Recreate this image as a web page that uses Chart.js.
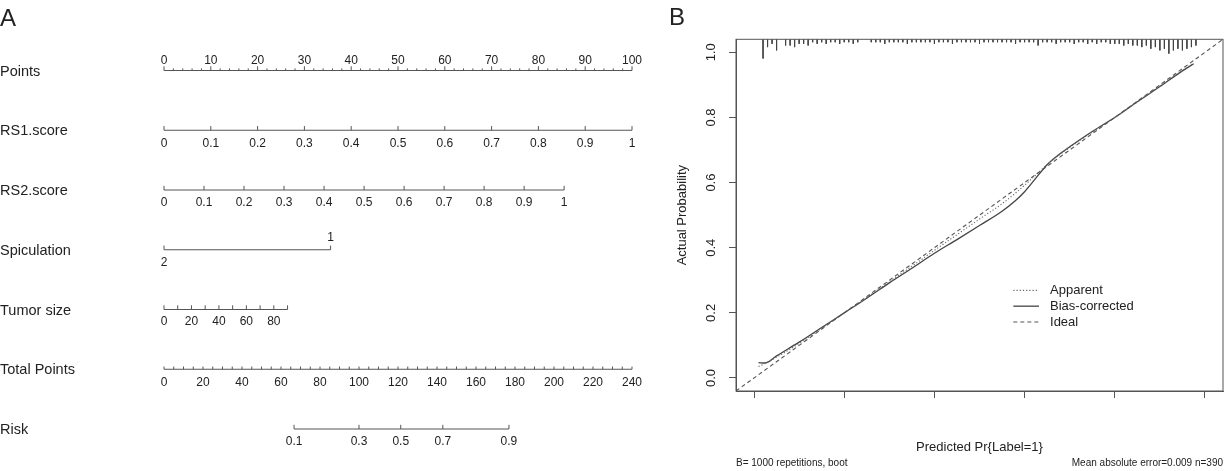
<!DOCTYPE html>
<html>
<head>
<meta charset="utf-8">
<script src="https://cdn.jsdelivr.net/npm/chart.js@4.4.1/dist/chart.umd.min.js"></script>
<style>
html, body { margin: 0; padding: 0; background: #fff; }
#wrap { position: relative; width: 1226px; height: 471px; overflow: hidden; }
#nomo { position: absolute; left: 0; top: 0; }
#calib { position: absolute; left: 660px; top: 0; }
</style>
</head>
<body>
<div id="wrap">
  <canvas id="nomo" width="660" height="471"></canvas>
  <canvas id="calib" width="566" height="471"></canvas>
</div>
<script>
// ---------- A: nomogram ----------
const rowNames = ["Points", "RS1.score", "RS2.score", "Spiculation", "Tumor size", "Total Points", "Risk"];

const pointsLabels = [0, 10, 20, 30, 40, 50, 60, 70, 80, 90, 100];
const rs1Labels = [0, 0.1, 0.2, 0.3, 0.4, 0.5, 0.6, 0.7, 0.8, 0.9, 1];
const rs2Labels = [0, 0.1, 0.2, 0.3, 0.4, 0.5, 0.6, 0.7, 0.8, 0.9, 1];
const rs2MaxPoints = 85.5;          // points given to RS2.score = 1
const spicLevels = ["2", "1"];
const spicPoints = [0, 35.6];
const tumorTicks = [0, 10, 20, 30, 40, 50, 60, 70, 80, 90];
const tumorLabels = [0, 20, 40, 60, 80];
const tumorMaxPoints = 26.4;        // points given to tumor size 90
const totalLabels = [0, 20, 40, 60, 80, 100, 120, 140, 160, 180, 200, 220, 240];
const riskLabels = [0.1, 0.3, 0.5, 0.7, 0.9];
const riskTotalPoints = [66.7, 100, 121.4, 143, 176.9];

// ---------- B: calibration ----------
const calX      = [0.01, 0.025, 0.05, 0.1, 0.15, 0.2, 0.25, 0.3, 0.35, 0.4, 0.45, 0.5, 0.55, 0.58, 0.6, 0.62, 0.65, 0.68, 0.7, 0.75, 0.8, 0.85, 0.9, 0.95, 0.975];
const biasY     = [0.047, 0.046, 0.068, 0.11, 0.155, 0.2, 0.245, 0.292, 0.337, 0.383, 0.425, 0.468, 0.512, 0.545, 0.572, 0.605, 0.655, 0.69, 0.71, 0.757, 0.8, 0.848, 0.895, 0.943, 0.965];
const apparentY = [0.035, 0.045, 0.064, 0.106, 0.153, 0.2, 0.247, 0.295, 0.343, 0.392, 0.44, 0.488, 0.535, 0.568, 0.592, 0.617, 0.655, 0.688, 0.708, 0.755, 0.8, 0.848, 0.896, 0.944, 0.967];
const idealEnds = [-0.04, 1.04];
const rugX = [0.02, 0.03, 0.04, 0.05, 0.06, 0.07, 0.08, 0.09, 0.10, 0.11, 0.12, 0.13, 0.14, 0.15, 0.16, 0.17, 0.18, 0.19, 0.20,
  0.21, 0.22, 0.23, 0.24, 0.25, 0.26, 0.27, 0.28, 0.29, 0.30, 0.31, 0.32, 0.33, 0.34, 0.35, 0.36, 0.37, 0.38, 0.39, 0.40,
  0.41, 0.42, 0.43, 0.44, 0.45, 0.46, 0.47, 0.48, 0.49, 0.50, 0.51, 0.52, 0.53, 0.54, 0.55, 0.56, 0.57, 0.58, 0.59, 0.60,
  0.61, 0.62, 0.63, 0.64, 0.65, 0.66, 0.67, 0.68, 0.69, 0.70, 0.71, 0.72, 0.73, 0.74, 0.75, 0.76, 0.77, 0.78, 0.79, 0.80,
  0.81, 0.82, 0.83, 0.84, 0.85, 0.86, 0.87, 0.88, 0.89, 0.90, 0.91, 0.92, 0.93, 0.94, 0.95, 0.96, 0.97, 0.98];
const rugCount = [11, 4, 2, 6, 0, 3, 3, 4, 2, 2, 3, 1, 2, 1, 2, 1, 1, 2, 1,
  1, 2, 1, 0, 0, 1, 1, 1, 2, 1, 1, 1, 1, 2, 1, 1, 1, 1, 1, 2,
  1, 1, 1, 2, 1, 1, 1, 1, 1, 2, 1, 1, 1, 1, 1, 1, 1, 2, 1, 1,
  1, 1, 3, 1, 1, 1, 2, 1, 1, 1, 2, 1, 1, 2, 1, 2, 1, 1, 2, 2,
  2, 3, 2, 3, 3, 4, 3, 5, 4, 6, 5, 8, 6, 5, 6, 5, 4, 3];
const axisTicks = [0, 0.2, 0.4, 0.6, 0.8, 1.0];

const FONT = '"Liberation Sans", Arial, sans-serif';

// nomogram helpers
const tickMajor = 0.07, tickMinor = 0.035;   // tick heights, row units
function steps(a, b, step) {
  const out = [];
  for (let v = a; v <= b + 1e-9; v += step) out.push(+v.toFixed(4));
  return out;
}
function rowSegs(row, from, to, ticks) {
  const d = [{x: from, y: row}, {x: to, y: row}, {x: to, y: null}];
  ticks.forEach(([v, h]) => d.push({x: v, y: row}, {x: v, y: row - h}, {x: v, y: null}));
  return d;
}
function rowSet(axis, data) {
  return {xAxisID: axis, yAxisID: "y", data: data, borderColor: "#555", borderWidth: 1,
    pointRadius: 0, spanGaps: false, clip: false};
}

const nomoSets = [
  rowSet("xPts", rowSegs(0, 0, 100, steps(0, 100, 2).map(v => [v, v % 10 === 0 ? tickMajor : tickMinor]))),
  rowSet("xRs1", rowSegs(1, 0, 1, rs1Labels.map(v => [v, tickMajor]))),
  rowSet("xRs2", rowSegs(2, 0, 1, rs2Labels.map(v => [v, tickMajor]))),
  rowSet("xPts", rowSegs(3, spicPoints[0], spicPoints[1], spicPoints.map(v => [v, tickMajor]))),
  rowSet("xTumor", rowSegs(4, 0, 90, tumorTicks.map(v => [v, tickMajor]))),
  rowSet("xTotal", rowSegs(5, 0, 240, steps(0, 240, 5).map(v => [v, tickMinor + 0.01]))),
  rowSet("xTotal", rowSegs(6, riskTotalPoints[0], riskTotalPoints[riskTotalPoints.length - 1], riskTotalPoints.map(v => [v, tickMajor])))
];

const nomoText = {
  id: "nomoText",
  afterDraw(chart) {
    const ctx = chart.ctx, s = chart.scales, y = s.y;
    ctx.save();
    ctx.fillStyle = "#222";
    ctx.textBaseline = "middle";
    ctx.textAlign = "left";
    ctx.font = "14.5px " + FONT;
    rowNames.forEach((n, i) => ctx.fillText(n, 0, y.getPixelForValue(i) + 1));

    ctx.font = "12px " + FONT;
    ctx.textAlign = "center";
    const put = (axis, vals, row, dy) => vals.forEach(v =>
      ctx.fillText(String(v), s[axis].getPixelForValue(v), y.getPixelForValue(row) + dy));
    put("xPts", pointsLabels, 0, -10);
    put("xRs1", rs1Labels, 1, 13);
    put("xRs2", rs2Labels, 2, 12.5);
    ctx.fillText(spicLevels[0], s.xPts.getPixelForValue(spicPoints[0]), y.getPixelForValue(3) + 13);
    ctx.fillText(spicLevels[1], s.xPts.getPixelForValue(spicPoints[1]), y.getPixelForValue(3) - 12);
    put("xTumor", tumorLabels, 4, 12.5);
    put("xTotal", totalLabels, 5, 13);
    riskLabels.forEach((r, k) =>
      ctx.fillText(String(r), s.xTotal.getPixelForValue(riskTotalPoints[k]), y.getPixelForValue(6) + 12.5));

    ctx.font = "24px " + FONT;
    ctx.textAlign = "left";
    ctx.textBaseline = "alphabetic";
    ctx.fillText("A", 0, 26);
    ctx.restore();
  }
};

const hidden = (min, max) => ({type: "linear", axis: "x", display: false, min: min, max: max});

new Chart(document.getElementById("nomo"), {
  type: "line",
  data: {datasets: nomoSets},
  options: {
    responsive: false,
    animation: false,
    events: [],
    layout: {padding: {left: 164, right: 28, top: 70.5, bottom: 42}},
    plugins: {legend: {display: false}, tooltip: {enabled: false}},
    scales: {
      xPts: hidden(0, 100),
      xRs1: hidden(0, 1),
      xRs2: hidden(0, 100 / rs2MaxPoints),
      xTumor: hidden(0, 90 * 100 / tumorMaxPoints),
      xTotal: hidden(0, 240),
      y: {type: "linear", display: false, min: 0, max: 6, reverse: true}
    }
  },
  plugins: [nomoText]
});

// ---------- B chart ----------
const yMax = 1.04;
const rugData = [];
rugX.forEach((v, i) => {
  const c = rugCount[i];
  if (!c) return;
  rugData.push({x: v, y: yMax}, {x: v, y: yMax - (0.004 + c * 0.005)}, {x: v, y: null});
});

const legendItems = [
  {label: "Apparent", dash: [1.2, 2], color: "#666", width: 1.1},
  {label: "Bias-corrected", dash: [], color: "#444", width: 1.3},
  {label: "Ideal", dash: [4, 3], color: "#555", width: 1.1}
];

const calibText = {
  id: "calibText",
  afterDraw(chart) {
    const ctx = chart.ctx, a = chart.chartArea, x = chart.scales.x, y = chart.scales.y;
    ctx.save();
    ctx.strokeStyle = "#555";
    ctx.lineWidth = 1;
    ctx.strokeRect(a.left, a.top, a.right - a.left, a.bottom - a.top);

    ctx.fillStyle = "#222";
    ctx.font = "13px " + FONT;
    ctx.textAlign = "center";
    ctx.textBaseline = "middle";
    axisTicks.forEach(v => {
      ctx.save();
      ctx.translate(a.left - 25, y.getPixelForValue(v));
      ctx.rotate(-Math.PI / 2);
      ctx.fillText(v.toFixed(1), 0, 0);
      ctx.restore();
    });
    ctx.save();
    ctx.translate(a.left - 54, (a.top + a.bottom) / 2);
    ctx.rotate(-Math.PI / 2);
    ctx.fillText("Actual Probability", 0, 0);
    ctx.restore();
    ctx.fillText("Predicted Pr{Label=1}", (a.left + a.right) / 2, 447);

    // legend
    const lx0 = x.getPixelForValue(0.575), lx1 = x.getPixelForValue(0.632);
    let ly = y.getPixelForValue(0.269);
    ctx.textAlign = "left";
    legendItems.forEach(it => {
      ctx.beginPath();
      ctx.setLineDash(it.dash);
      ctx.strokeStyle = it.color;
      ctx.lineWidth = it.width;
      ctx.moveTo(lx0, ly);
      ctx.lineTo(lx1, ly);
      ctx.stroke();
      ctx.fillText(it.label, lx1 + 11, ly);
      ly += 15.8;
    });
    ctx.setLineDash([]);

    ctx.font = "10px " + FONT;
    ctx.fillText("B= 1000 repetitions, boot", a.left, 463.5);
    ctx.textAlign = "right";
    ctx.fillText("Mean absolute error=0.009 n=390", a.right, 463.5);

    ctx.font = "24px " + FONT;
    ctx.textAlign = "left";
    ctx.textBaseline = "alphabetic";
    ctx.fillText("B", 9, 25);
    ctx.restore();
  }
};

new Chart(document.getElementById("calib"), {
  type: "line",
  data: {
    datasets: [
      {label: "Ideal", data: idealEnds.map(v => ({x: v, y: v})), borderColor: "#555",
        borderWidth: 1.1, borderDash: [4, 3], pointRadius: 0},
      {label: "Apparent", data: calX.map((v, i) => ({x: v, y: apparentY[i]})), borderColor: "#666",
        borderWidth: 1.1, borderDash: [1.2, 2], pointRadius: 0, cubicInterpolationMode: "monotone"},
      {label: "Bias-corrected", data: calX.map((v, i) => ({x: v, y: biasY[i]})), borderColor: "#444",
        borderWidth: 1.3, pointRadius: 0, cubicInterpolationMode: "monotone"},
      {label: "rug", data: rugData, borderColor: "#444", borderWidth: 1, pointRadius: 0, spanGaps: false}
    ]
  },
  options: {
    responsive: false,
    animation: false,
    events: [],
    layout: {padding: {left: 69, right: 3, top: 39.3, bottom: 73}},
    plugins: {legend: {display: false}, tooltip: {enabled: false}},
    scales: {
      x: {
        type: "linear", min: -0.04, max: 1.04,
        afterBuildTicks: s => { s.ticks = axisTicks.map(v => ({value: v})); },
        afterFit: s => { s.height = 7; },
        ticks: {callback: v => v.toFixed(1), font: {family: FONT, size: 13}, color: "#222",
          padding: 8, maxRotation: 0, autoSkip: false},
        grid: {drawOnChartArea: false, drawTicks: true, tickLength: 7, color: "#555"},
        border: {display: true, color: "#555"}
      },
      y: {
        type: "linear", min: -0.04, max: yMax,
        afterBuildTicks: s => { s.ticks = axisTicks.map(v => ({value: v})); },
        afterFit: s => { s.width = 7; },
        ticks: {display: false},
        grid: {drawOnChartArea: false, drawTicks: true, tickLength: 7, color: "#555"},
        border: {display: true, color: "#555"}
      }
    }
  },
  plugins: [calibText]
});
</script>
</body>
</html>
